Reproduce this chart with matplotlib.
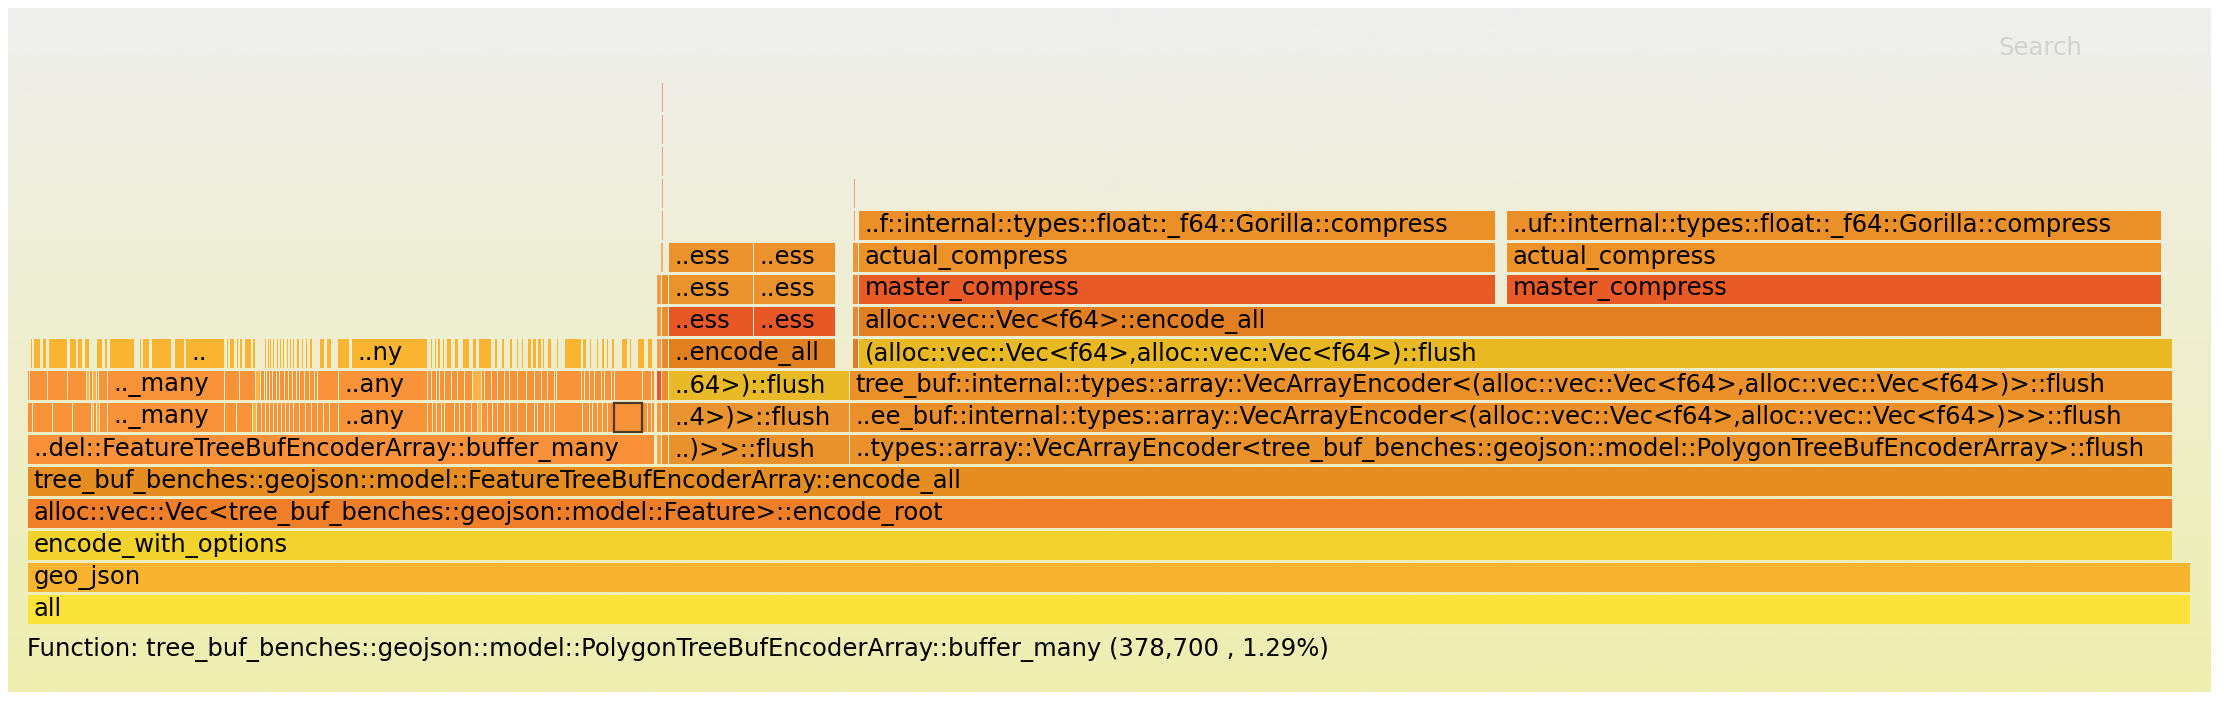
"""
Flame graph of the tree_buf geojson encode benchmark (hot palette),
hovered frame: PolygonTreeBufEncoderArray::buffer_many.
Frame positions are given as % of all samples.
"""

import numpy as np
import matplotlib
matplotlib.use("Agg")
import matplotlib.pyplot as plt
from matplotlib.colors import LinearSegmentedColormap

W, H = 2224, 704

# ── named frames: depth, start %, end %, label ───────────────────────────────
FRAME_DEPTH = [0, 1, 2, 3, 4,
               5, 5, 5, 5, 5,
               6, 6, 6, 6,
               7, 7, 7, 7,
               8, 8, 8, 8, 8,
               9, 9, 9, 9, 9, 9,
               10, 10, 10, 10, 10, 10, 10,
               11, 11, 11, 11, 11, 11,
               12, 12, 12, 12,
               13, 13, 14, 15, 16]
FRAME_START = [0.00, 0.00, 0.00, 0.00, 0.00,
               0.00, 29.08, 29.31, 29.63, 38.00,
               29.08, 29.31, 29.63, 38.00,
               29.08, 29.31, 29.63, 38.00,
               29.08, 29.31, 29.63, 38.14, 38.42,
               29.08, 29.31, 29.63, 33.56, 38.14, 38.42,
               29.08, 29.31, 29.63, 33.56, 38.14, 38.42, 68.38,
               29.27, 29.63, 33.56, 38.14, 38.42, 68.38,
               29.31, 38.21, 38.42, 68.38,
               29.31, 38.21, 29.31, 29.31, 29.31]
FRAME_END = [100.0, 100.0, 99.17, 99.17, 99.17,
             28.99, 29.31, 29.63, 38.00, 99.17,
             29.31, 29.63, 38.00, 99.17,
             29.31, 29.63, 38.00, 99.17,
             29.31, 29.63, 37.36, 38.42, 99.17,
             29.31, 29.63, 33.56, 37.36, 38.42, 98.66,
             29.31, 29.63, 33.56, 37.36, 38.42, 67.87, 98.66,
             29.40, 33.56, 37.36, 38.42, 67.87, 98.66,
             29.38, 38.28, 67.87, 98.66,
             29.38, 38.28, 29.37, 29.37, 29.37]
FRAME_LABEL = [
    "all", "geo_json", "encode_with_options",
    "alloc::vec::Vec<tree_buf_benches::geojson::model::Feature>::encode_root",
    "tree_buf_benches::geojson::model::FeatureTreeBufEncoderArray::encode_all",
    "..del::FeatureTreeBufEncoderArray::buffer_many", "", "", "..)>>::flush",
    "..types::array::VecArrayEncoder<tree_buf_benches::geojson::model::PolygonTreeBufEncoderArray>::flush",
    "", "", "..4>)>::flush",
    "..ee_buf::internal::types::array::VecArrayEncoder<(alloc::vec::Vec<f64>,alloc::vec::Vec<f64>)>>::flush",
    "", "", "..64>)::flush",
    "tree_buf::internal::types::array::VecArrayEncoder<(alloc::vec::Vec<f64>,alloc::vec::Vec<f64>)>::flush",
    "", "", "..encode_all", "", "(alloc::vec::Vec<f64>,alloc::vec::Vec<f64>)::flush",
    "", "", "..ess", "..ess", "", "alloc::vec::Vec<f64>::encode_all",
    "", "", "..ess", "..ess", "", "master_compress", "master_compress",
    "", "..ess", "..ess", "", "actual_compress", "actual_compress",
    "", "", "..f::internal::types::float::_f64::Gorilla::compress",
    "..uf::internal::types::float::_f64::Gorilla::compress",
    "", "", "", "", "",
]
FRAME_COLOR = [
    "#fce33a", "#f8b42e", "#f2d22c", "#ee7e28", "#e68d22",
    "#f8913a", "#f2a452", "#e9922e", "#e8912d", "#e9912a",
    "#f09a45", "#ea9030", "#e99430", "#eb8f2a",
    "#e8552a", "#ea8c30", "#e8ba28", "#ec912a",
    "#eea050", "#e88a30", "#e2801f", "#df7d2c", "#e9b924",
    "#ee9c4a", "#e8902c", "#e85826", "#e85826", "#e8883a", "#e27f22",
    "#ee9c4a", "#e8902c", "#ea922c", "#ea922c", "#ea8c38", "#e85a26", "#e85a26",
    "#f0b070", "#eb922d", "#eb922d", "#ec9436", "#ec9228", "#ec9228",
    "#f2a27a", "#f0a07a", "#eb8f28", "#eb8f28",
    "#f2a27a", "#f0a07a", "#f2a080", "#f2a080", "#f2a080",
]

# ── many small frames under ..del::FeatureTreeBufEncoderArray::buffer_many ──
D6_EDGES = [0.00, 0.23, 1.16, 2.08, 2.96, 3.05, 3.19, 3.33, 3.70, 9.11, 9.66,
            10.40, 10.59, 10.82, 11.00, 11.19, 11.37, 11.56, 11.74, 11.93,
            12.11, 12.30, 12.58, 12.85, 13.13, 13.41, 13.68, 13.96, 14.38,
            18.49, 18.72, 18.91, 19.14, 19.28, 19.74, 19.97, 20.20, 20.53,
            20.80, 20.99, 21.27, 21.50, 21.73, 22.05, 22.28, 22.65, 23.07,
            23.44, 23.58, 23.90, 24.13, 24.36, 25.66, 25.98, 26.12, 26.35,
            26.58, 26.81, 27.09, 28.43, 28.66, 28.85, 28.99]
D6_LIGHT = [2.96, 3.19, 10.40, 20.80]
D6_NAMES = {3.70: ".._many", 14.38: "..any"}

D7_EDGES = [0.00, 0.09, 0.92, 1.85, 2.73, 2.87, 3.01, 3.19, 3.28, 3.70, 9.11,
            9.80, 10.54, 10.77, 10.96, 11.05, 11.19, 11.33, 11.51, 11.65,
            11.88, 12.07, 12.25, 12.44, 12.58, 12.81, 13.04, 13.27, 13.41,
            14.38, 18.49, 18.68, 18.91, 19.05, 19.28, 19.60, 19.88, 20.20,
            20.57, 20.99, 21.13, 21.45, 21.73, 22.05, 22.28, 22.65, 23.07,
            23.44, 23.76, 24.04, 24.36, 24.46, 25.61, 25.75, 25.98, 26.21,
            26.54, 26.68, 27.00, 27.14, 28.43, 28.85, 28.99]
D7_LIGHT = [2.73, 3.01, 10.54, 20.57]
D7_NAMES = {3.70: ".._many", 14.38: "..any"}

D8_STRIPES = [(0.14, 0.18), (0.28, 0.60), (0.69, 0.88), (0.97, 1.85),
              (1.94, 2.27), (2.31, 2.54), (2.64, 2.87), (3.19, 3.47),
              (3.56, 3.70), (3.79, 4.95), (5.18, 5.27), (5.32, 5.64),
              (5.73, 6.66), (6.80, 7.26), (7.30, 9.11), (9.20, 9.29),
              (9.34, 9.57), (9.66, 9.71), (9.80, 9.94), (10.03, 10.36),
              (10.40, 10.54), (10.96, 11.00), (11.10, 11.14), (11.19, 11.28),
              (11.33, 11.42), (11.51, 11.56), (11.65, 11.70), (11.79, 11.88),
              (11.97, 12.02), (12.11, 12.16), (12.25, 12.34), (12.44, 12.58),
              (12.67, 12.76), (12.85, 12.94), (13.04, 13.18), (13.50, 13.73),
              (13.82, 14.05), (14.33, 14.89), (14.98, 18.49), (18.63, 18.72),
              (18.82, 18.91), (18.96, 19.09), (19.19, 19.28), (19.37, 19.60),
              (19.74, 19.93), (20.11, 20.43), (20.57, 20.76), (20.85, 21.45),
              (21.59, 21.73), (21.91, 22.05), (22.28, 22.42), (22.61, 22.65),
              (22.84, 22.88), (23.12, 23.30), (23.35, 23.53), (23.58, 23.76),
              (23.81, 23.90), (24.04, 24.23), (24.46, 24.55), (24.83, 25.61),
              (25.66, 25.84), (25.98, 26.08), (26.31, 26.35), (26.54, 26.68),
              (26.77, 26.81), (27.00, 27.14), (27.46, 27.74), (27.83, 27.92),
              (28.20, 28.53), (28.66, 28.90)]
D8_NAMES = {7.30: "..", 14.98: "..ny"}

HOVER_NAME = "tree_buf_benches::geojson::model::PolygonTreeBufEncoderArray::buffer_many"
HOVER_DEPTH = 6
HOVER_START, HOVER_END = 27.09, 28.43
HOVER_SAMPLES = 378700
HOVER_PCT = 1.29

# ── styles ──────────────────────────────────────────────────────────────────
LEFT_ORANGE = "#f99339"
LEFT_LIGHT = "#fbb445"
STRIPE_YELLOW = "#f9b532"
GAP = 0.046          # one pixel of background between neighbouring frames
BAR_H = 0.906
FS = 17.5


def draw_frame(ax, depth, start, end, color, label=""):
    w = end - start
    w_draw = w - min(GAP, 0.4 * w)
    bars = ax.barh(depth + 0.094 + BAR_H / 2, w_draw, left=start,
                   height=BAR_H, color=color, linewidth=0)
    if label:
        t = ax.text(start + 0.25, depth + 0.094 + BAR_H / 2, label,
                    ha="left", va="center", fontsize=FS, color="black")
        t.set_clip_path(bars.patches[0])


def main():
    plt.rcParams["font.family"] = ["DejaVu Sans"]
    fig = plt.figure(figsize=(W / 100, H / 100), dpi=100)
    fig.patch.set_facecolor("white")

    # background gradient
    bg = fig.add_axes([8 / W, 12 / H, 2203 / W, 684 / H])
    grad = np.linspace(0, 1, 256).reshape(-1, 1)
    cmap = LinearSegmentedColormap.from_list("fg_bg", ["#eeeeee", "#eeeeb0"])
    bg.imshow(grad, aspect="auto", cmap=cmap, extent=[0, 1, 0, 1], origin="upper")
    bg.axis("off")

    ax = fig.add_axes([28 / W, (H - 627) / H, 2163 / W, 544 / H])
    ax.set_xlim(0, 100)
    ax.set_ylim(0, 17)
    ax.axis("off")
    ax.patch.set_alpha(0)

    for d, s, e, lab, c in zip(FRAME_DEPTH, FRAME_START, FRAME_END,
                               FRAME_LABEL, FRAME_COLOR):
        draw_frame(ax, d, s, e, c, lab)

    for depth, edges, light, names in ((6, D6_EDGES, D6_LIGHT, D6_NAMES),
                                       (7, D7_EDGES, D7_LIGHT, D7_NAMES)):
        light_set = {round(v, 2) for v in light}
        for s, e in zip(edges[:-1], edges[1:]):
            c = LEFT_LIGHT if round(s, 2) in light_set else LEFT_ORANGE
            draw_frame(ax, depth, s, e, c, names.get(round(s, 2), ""))

    for s, e in D8_STRIPES:
        draw_frame(ax, 8, s, e, STRIPE_YELLOW, D8_NAMES.get(round(s, 2), ""))

    # hovered frame outline
    ax.barh(HOVER_DEPTH + 0.094 + BAR_H / 2, HOVER_END - HOVER_START - GAP,
            left=HOVER_START, height=BAR_H, facecolor="none",
            edgecolor="#4a3a28", linewidth=1.6, zorder=5)

    fig.text(27 / W, 1 - 650 / H,
             f"Function: {HOVER_NAME} ({HOVER_SAMPLES:,} , {HOVER_PCT}%)",
             fontsize=FS, va="center", ha="left", color="black")
    fig.text(1998 / W, 1 - 48 / H, "Search", fontsize=FS, va="center",
             ha="left", color="#d2d2d2")

    fig.savefig("out.png", dpi=100)
    plt.close(fig)


if __name__ == "__main__":
    main()
